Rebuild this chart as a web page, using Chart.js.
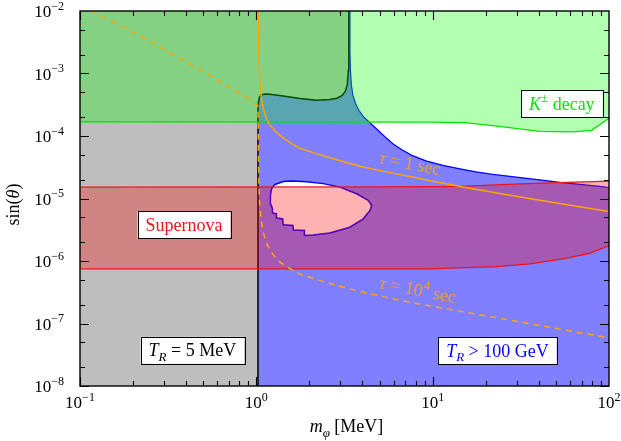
<!DOCTYPE html>
<html>
<head>
<meta charset="utf-8">
<script src="https://cdn.jsdelivr.net/npm/chart.js@4.4.0/dist/chart.umd.min.js"></script>
<style>
  html, body { margin: 0; padding: 0; background: #fff; }
  #wrap { width: 621px; height: 441px; }
</style>
</head>
<body>
<div id="wrap"><canvas id="mychart" width="621" height="441"></canvas></div>
<script>
// axis range (m_phi in MeV, sin theta)
var mLow = 0.1, mHigh = 100;
var sLow = 1e-8, sHigh = 1e-2;

// T_R = 5 MeV boundary (vertical at 2 m_e, then the dark curve up to the top)
var trLowM = [1.022, 1.022, 1.0278, 1.0413, 1.0619, 1.090, 1.1335, 1.1942, 1.42, 1.766, 2.196, 2.61, 2.864, 3.057, 3.200, 3.284, 3.323, 3.34, 3.35];
var trLowS = [1e-8, 2.58e-4, 3.47e-4, 4.17e-4, 4.50e-4, 4.63e-4, 4.70e-4, 4.66e-4, 4.38e-4, 3.98e-4, 3.74e-4, 3.84e-4, 4.02e-4, 4.41e-4, 5.21e-4, 6.75e-4, 1.13e-3, 3.43e-3, 1e-2];

// T_R > 100 GeV boundary (blue)
var trHighM = [3.394, 3.394, 3.415, 3.460, 3.528, 3.646, 3.815, 4.074, 4.406, 4.828, 5.358, 5.950, 6.690, 7.623, 9.151, 11.43,
               14.27, 17.58, 21.94, 27.39, 34.20, 42.70, 52.61, 68.31, 88.67, 100];
var trHighS = [1e-2, 2.37e-3, 1.132e-3, 6.50e-4, 4.497e-4, 3.345e-4, 2.584e-4, 1.995e-4, 1.628e-4, 1.281e-4, 9.71e-5, 7.50e-5, 6.01e-5, 4.90e-5, 4.00e-5, 3.39e-5,
               2.98e-5, 2.67e-5, 2.43e-5, 2.26e-5, 2.10e-5, 1.95e-5, 1.81e-5, 1.68e-5, 1.56e-5, 1.50e-5];

// island inside the blue region
var blobM = [1.202, 1.221, 1.275, 1.420, 1.619, 1.929, 2.395, 2.978, 3.704, 4.31, 4.51, 4.41, 4.04, 3.39, 2.61, 2.10, 1.886,
             1.874, 1.623, 1.613, 1.42, 1.411, 1.309, 1.300, 1.242, 1.234, 1.205, 1.202];
var blobS = [1.12e-5, 1.43e-5, 1.68e-5, 1.87e-5, 1.90e-5, 1.86e-5, 1.73e-5, 1.52e-5, 1.19e-5, 9.31e-6, 7.74e-6, 6.43e-6, 4.73e-6, 3.47e-6, 2.80e-6, 2.60e-6, 2.55e-6,
             3.07e-6, 3.13e-6, 3.70e-6, 3.81e-6, 4.70e-6, 4.88e-6, 5.69e-6, 5.86e-6, 6.92e-6, 8.18e-6, 1.12e-5];

// K+- decay bound
var kM = [0.1, 10, 15.6, 22, 40.5, 62.4, 79.6, 100];
var kS = [1.68e-4, 1.67e-4, 1.62e-4, 1.46e-4, 1.19e-4, 1.16e-4, 1.23e-4, 1.92e-4];

// supernova band
var snTopM = [0.1, 5, 14.3, 34, 100];
var snTopS = [1.52e-5, 1.53e-5, 1.56e-5, 1.73e-5, 1.90e-5];
var snBotM = [0.1, 9.6, 23, 35.6, 55, 77.8, 100];
var snBotS = [7.47e-7, 7.47e-7, 8.13e-7, 8.97e-7, 1.08e-6, 1.33e-6, 1.77e-6];

// lifetime contours
var tau1M = [1.0251, 1.0305, 1.0386, 1.0508, 1.0688, 1.0943, 1.1262, 1.1634, 1.1942, 1.2748, 1.3606, 1.4524, 1.5503, 1.6549, 1.7665,
             2.1478, 2.6131, 3.1789, 3.8668, 5.3584, 7.4273, 10.564, 14.83, 24.04, 40.53, 63.99, 100];
var tau1S = [1e-2, 3.425e-3, 1.361e-3, 6.50e-4, 4.02e-4, 2.782e-4, 2.109e-4, 1.721e-4, 1.484e-4, 1.212e-4, 1.026e-4, 8.92e-5, 7.92e-5, 7.04e-5, 6.35e-5,
             5.32e-5, 4.50e-5, 3.83e-5, 3.27e-5, 2.69e-5, 2.24e-5, 1.84e-5, 1.53e-5, 1.205e-5, 9.37e-6, 7.60e-6, 6.20e-6];
var tau4M = [0.1155, 0.1545, 0.239, 0.369, 0.570, 0.881, 1.004, 1.022, 1.0278, 1.0345, 1.0453, 1.0591, 1.0758, 1.0971, 1.1262, 1.1634,
             1.2099, 1.2748, 1.3606, 1.4524, 1.5503, 1.7665, 2.1959, 2.7288, 3.3932, 4.2198, 5.2406, 6.5166, 8.1025, 11.473, 16.25, 23.03,
             35.56, 54.93, 100];
var tau4S = [1e-2, 6.74e-3, 3.52e-3, 1.74e-3, 8.65e-4, 4.13e-4, 3.11e-4, 3.0e-4, 5.90e-5, 1.62e-5, 7.74e-6, 5.15e-6, 3.70e-6, 2.85e-6, 2.16e-6, 1.73e-6,
             1.415e-6, 1.155e-6, 9.60e-7, 8.43e-7, 7.55e-7, 6.17e-7, 5.07e-7, 4.23e-7, 3.58e-7, 3.08e-7, 2.69e-7, 2.36e-7, 2.09e-7, 1.757e-7, 1.471e-7, 1.236e-7,
             9.91e-8, 7.94e-8, 5.91e-8];

// tick labels
var xTickVals = [0.1, 1, 10, 100];
var xTickExp = ['\u22121', '0', '1', '2'];
var yTickVals = [1e-8, 1e-7, 1e-6, 1e-5, 1e-4, 1e-3, 1e-2];
var yTickExp = ['\u22128', '\u22127', '\u22126', '\u22125', '\u22124', '\u22123', '\u22122'];

var FONT = '"Liberation Serif", "DejaVu Serif", serif';
var orange = 'rgb(255, 165, 0)';
var merah = 'rgb(238, 20, 30)';
var hijau = 'rgb(0, 230, 0)';
var biru = 'rgb(0, 0, 255)';

function pts(ms, ss) {
  return ms.map(function (m, i) { return {x: m, y: ss[i]}; });
}

var grayShape = [{x: mLow, y: sLow}].concat(pts(trLowM, trLowS), [{x: mLow, y: sHigh}]);
var blueShape = pts(trLowM, trLowS).concat(pts(trHighM, trHighS), [{x: mHigh, y: sLow}]);
var snShape = pts(snTopM, snTopS).concat(pts(snBotM, snBotS).reverse());
var kShape = pts(kM, kS).concat([{x: mHigh, y: sHigh}, {x: mLow, y: sHigh}]);

function area(data, color) {
  return {data: data, backgroundColor: color, borderColor: 'transparent', borderWidth: 0,
          fill: 'shape', pointRadius: 0, showLine: true};
}
function curve(data, color, w, dash) {
  return {data: data, borderColor: color, borderWidth: w, borderDash: dash || [],
          fill: false, pointRadius: 0, showLine: true};
}

// bottom to top
var layers = [
  area(grayShape, '#bebebe'),
  area(blueShape, 'rgba(0, 0, 255, 0.5)'),
  area(pts(blobM, blobS), '#ffffff'),
  curve(pts(blobM, blobS), biru, 1.5),
  curve(pts(trHighM, trHighS), biru, 1.2),
  curve(pts(trLowM, trLowS), '#000', 1.5),
  area(snShape, 'rgba(255, 0, 0, 0.3)'),
  curve(pts(snTopM, snTopS), merah, 1.3),
  curve(pts(snBotM, snBotS), merah, 1.3),
  area(kShape, 'rgba(0, 255, 0, 0.3)'),
  curve(pts(kM, kS), hijau, 1.3),
  curve(pts(tau1M, tau1S), orange, 1.5),
  curve(pts(tau4M, tau4S), orange, 1.5, [6, 5])
];
layers.forEach(function (d, i) { d.order = layers.length - i; });

// text labels, anchored in data coords
var boxes = [
  {m: 54.0, s: 3.28e-4, color: hijau, parts: [{t: 'K', i: true}, {t: '\u00b1', sup: true}, {t: ' decay'}]},
  {m: 0.389, s: 3.77e-6, color: merah, parts: [{t: 'Supernova'}]},
  {m: 0.434, s: 3.72e-8, color: '#000', parts: [{t: 'T', i: true}, {t: 'R', i: true, sub: true}, {t: ' = 5 MeV'}]},
  {m: 23.3, s: 3.65e-8, color: biru, parts: [{t: 'T', i: true}, {t: 'R', i: true, sub: true}, {t: ' > 100 GeV'}]}
];
var tauLabels = [
  {m: 7.42, s: 3.52e-5, parts: [{t: '\u03c4', i: true}, {t: ' = 1 sec'}]},
  {m: 8.24, s: 3.35e-7, parts: [{t: '\u03c4', i: true}, {t: ' = 10'}, {t: '4', sup: true}, {t: ' sec'}]}
];

function partFont(p, size) {
  var sz = (p.sub || p.sup) ? Math.round(size * 0.7) : size;
  return (p.i ? 'italic ' : '') + sz + 'px ' + FONT;
}
function richWidth(c, parts, size) {
  var w = 0;
  parts.forEach(function (p) { c.font = partFont(p, size); w += c.measureText(p.t).width; });
  return w;
}
// draws parts starting at x (left) with baseline y
function drawRich(c, parts, x, y, size) {
  parts.forEach(function (p) {
    c.font = partFont(p, size);
    var dy = p.sub ? size * 0.25 : (p.sup ? -size * 0.42 : 0);
    c.fillText(p.t, x, y + dy);
    x += c.measureText(p.t).width;
  });
}

var decor = {
  id: 'decor',
  afterDraw: function (chart) {
    var c = chart.ctx, a = chart.chartArea, xs = chart.scales.x, ys = chart.scales.y;
    c.save();
    c.textBaseline = 'alphabetic';
    c.textAlign = 'left';

    // inward ticks on all four sides
    c.strokeStyle = '#000';
    c.lineWidth = 1.1;
    c.beginPath();
    for (var d = -1; d < 2; d++) {
      for (var k = 1; k < 10; k++) {
        var px = Math.round(xs.getPixelForValue(k * Math.pow(10, d))) + 0.5;
        var len = k === 1 ? 9 : 5;
        c.moveTo(px, a.bottom); c.lineTo(px, a.bottom - len);
        c.moveTo(px, a.top); c.lineTo(px, a.top + len);
      }
    }
    for (var e = -8; e < -2; e++) {
      [1, 2, 5].forEach(function (k) {
        var py = Math.round(ys.getPixelForValue(k * Math.pow(10, e))) + 0.5;
        var len = k === 1 ? 9 : 5;
        c.moveTo(a.left, py); c.lineTo(a.left + len, py);
        c.moveTo(a.right, py); c.lineTo(a.right - len, py);
      });
    }
    c.stroke();

    // frame
    c.lineWidth = 1.4;
    c.strokeRect(a.left, a.top, a.right - a.left, a.bottom - a.top);

    // tick labels
    c.fillStyle = '#000';
    var size = 17;
    xTickVals.forEach(function (v, i) {
      var parts = [{t: '10'}, {t: xTickExp[i], sup: true}];
      var w = richWidth(c, parts, size);
      drawRich(c, parts, xs.getPixelForValue(v) - w / 2, a.bottom + 22, size);
    });
    yTickVals.forEach(function (v, i) {
      var parts = [{t: '10'}, {t: yTickExp[i], sup: true}];
      var w = richWidth(c, parts, size);
      drawRich(c, parts, a.left - 16 - w, ys.getPixelForValue(v) + 6, size);
    });

    // axis titles
    var xt = [{t: 'm', i: true}, {t: '\u03c6', i: true, sub: true}, {t: ' [MeV]'}];
    var xw = richWidth(c, xt, 18);
    drawRich(c, xt, (a.left + a.right) / 2 - xw / 2 + 2, 432, 18);
    c.save();
    c.translate(19, (a.top + a.bottom) / 2 + 6);
    c.rotate(-Math.PI / 2);
    var yt = [{t: 'sin('}, {t: '\u03b8', i: true}, {t: ')'}];
    var yw = richWidth(c, yt, 18);
    drawRich(c, yt, -yw / 2, 0, 18);
    c.restore();

    // boxed labels
    boxes.forEach(function (b) {
      var cx = xs.getPixelForValue(b.m), cy = ys.getPixelForValue(b.s);
      var w = richWidth(c, b.parts, 18);
      var bw = w + 16, bh = 27;
      c.fillStyle = '#fff';
      c.fillRect(cx - bw / 2, cy - bh / 2, bw, bh);
      c.strokeStyle = '#000';
      c.lineWidth = 1;
      c.strokeRect(Math.round(cx - bw / 2) + 0.5, Math.round(cy - bh / 2) + 0.5, Math.round(bw), bh);
      c.fillStyle = b.color;
      drawRich(c, b.parts, cx - w / 2, cy + 6, 18);
    });

    // lifetime labels, tilted along the curves
    tauLabels.forEach(function (l) {
      var cx = xs.getPixelForValue(l.m), cy = ys.getPixelForValue(l.s);
      c.save();
      c.translate(cx, cy);
      c.rotate(11 * Math.PI / 180);
      c.fillStyle = 'rgba(240, 160, 40, 0.95)';
      var w = richWidth(c, l.parts, 18);
      drawRich(c, l.parts, -w / 2, 5, 18);
      c.restore();
    });
    c.restore();
  }
};

var ctx = document.getElementById('mychart').getContext('2d');
var myChart = new Chart(ctx, {
  type: 'scatter',
  data: {datasets: layers},
  options: {
    responsive: false,
    animation: false,
    events: [],
    layout: {padding: {left: 80, right: 12, top: 11, bottom: 55}},
    plugins: {legend: {display: false}, tooltip: {enabled: false}},
    scales: {
      x: {type: 'logarithmic', min: mLow, max: mHigh, display: false},
      y: {type: 'logarithmic', min: sLow, max: sHigh, display: false}
    }
  },
  plugins: [decor]
});
</script>
</body>
</html>
